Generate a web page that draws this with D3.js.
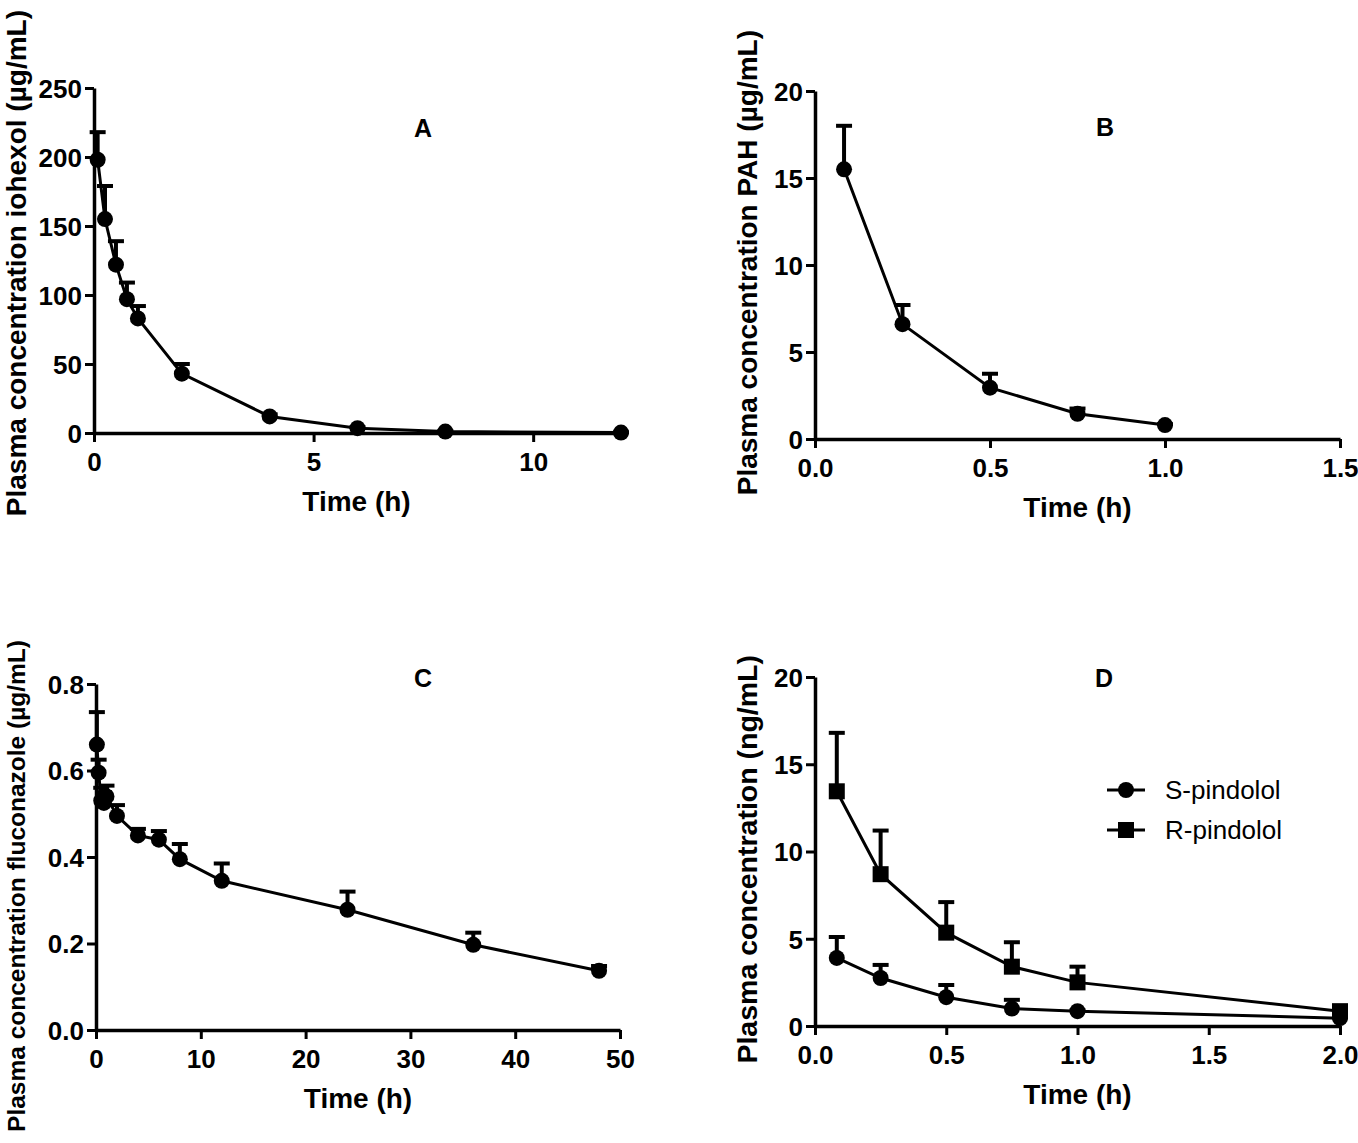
<!DOCTYPE html>
<html>
<head>
<meta charset="utf-8">
<script src="https://cdn.jsdelivr.net/npm/d3@7"></script>
<style>
body { margin: 0; background: #fff; }
text { font-family: "Liberation Sans", Arial, sans-serif; fill: #000; }
</style>
</head>
<body>
<div id="stage"></div>
<script>
// panel A - iohexol
var timeA = [0.083, 0.25, 0.5, 0.75, 1, 2, 4, 6, 8, 12];
var meanA = [198, 155, 122, 97, 83, 43, 12, 3.5, 1, 0.3];
var sdTopA = [218, 179, 139, 109, 92, 50, 13.5, 4.2, 1.3, 0.4];

// panel B - PAH
var timeB = [0.083, 0.25, 0.5, 0.75, 1];
var meanB = [15.5, 6.6, 2.95, 1.45, 0.8];
var sdTopB = [18, 7.7, 3.75, 1.75, 0.85];

// panel C - fluconazole
var timeC = [0.083, 0.25, 0.5, 0.75, 1, 2, 4, 6, 8, 12, 24, 36, 48];
var meanC = [0.66, 0.595, 0.53, 0.525, 0.54, 0.495, 0.45, 0.44, 0.395, 0.345, 0.278, 0.197, 0.137];
var sdTopC = [0.735, 0.625, 0.56, 0.55, 0.565, 0.52, 0.465, 0.46, 0.43, 0.385, 0.32, 0.225, 0.148];

// panel D - pindolol
var timeD = [0.083, 0.25, 0.5, 0.75, 1, 2];
var meanS = [3.9, 2.75, 1.65, 1.0, 0.85, 0.45];
var sdTopS = [5.1, 3.5, 2.35, 1.5, 0.9, 0.5];
var meanR = [13.45, 8.7, 5.35, 3.4, 2.5, 0.85];
var sdTopR = [16.8, 11.2, 7.1, 4.8, 3.4, 1.0];

var ticksA = {x: [0, 5, 10], y: [0, 50, 100, 150, 200, 250]};
var ticksB = {x: [0, 0.5, 1, 1.5], y: [0, 5, 10, 15, 20]};
var ticksC = {x: [0, 10, 20, 30, 40, 50], y: [0, 0.2, 0.4, 0.6, 0.8]};
var ticksD = {x: [0, 0.5, 1, 1.5, 2], y: [0, 5, 10, 15, 20]};

var svg = d3.select("#stage").append("svg").attr("width", 1358).attr("height", 1143);

function drawPanel(p) {
    var x = d3.scaleLinear().domain(p.xdom).range([p.left, p.right]);
    var y = d3.scaleLinear().domain(p.ydom).range([p.bottom, p.top]);
    var g = svg.append("g");

    var xa = g.append("g").attr("transform", "translate(0," + p.bottom + ")")
        .call(d3.axisBottom(x).tickValues(p.ticks.x).tickFormat(d3.format(p.xfmt)).tickSize(9).tickSizeOuter(0));
    var ya = g.append("g").attr("transform", "translate(" + p.left + ",0)")
        .call(d3.axisLeft(y).tickValues(p.ticks.y).tickFormat(d3.format(p.yfmt)).tickSize(9).tickSizeOuter(0));
    [xa, ya].forEach(function(a) {
        a.select(".domain").attr("stroke", "#000").attr("stroke-width", 3.5);
        a.selectAll(".tick line").attr("stroke", "#000").attr("stroke-width", 3);
        a.selectAll(".tick text").style("font-size", "26px").style("font-weight", "bold")
            .style("font-family", "'Liberation Sans', Arial, sans-serif");
    });
    xa.selectAll(".tick text").attr("dy", "1.0em");
    ya.selectAll(".tick text").attr("x", -12).attr("dy", "0.36em");

    p.series.forEach(function(s) {
        var pts = s.t.map(function(t, i) { return {t: t, m: s.m[i], e: s.e[i]}; });
        // error bars (upper only)
        var eb = g.selectAll(null).data(pts).enter().append("g");
        eb.append("line")
            .attr("x1", function(d) { return x(d.t); }).attr("x2", function(d) { return x(d.t); })
            .attr("y1", function(d) { return y(d.m); }).attr("y2", function(d) { return y(d.e); })
            .attr("stroke", "#000").attr("stroke-width", 4);
        eb.append("line")
            .attr("x1", function(d) { return x(d.t) - 8; }).attr("x2", function(d) { return x(d.t) + 8; })
            .attr("y1", function(d) { return y(d.e); }).attr("y2", function(d) { return y(d.e); })
            .attr("stroke", "#000").attr("stroke-width", 4);

        var line = d3.line().x(function(d) { return x(d.t); }).y(function(d) { return y(d.m); });
        g.append("path").datum(pts).attr("d", line)
            .attr("fill", "none").attr("stroke", "#000").attr("stroke-width", 3);

        if (s.shape == "square") {
            g.selectAll(null).data(pts).enter().append("rect")
                .attr("x", function(d) { return x(d.t) - 8; }).attr("y", function(d) { return y(d.m) - 8; })
                .attr("width", 16).attr("height", 16).attr("fill", "#000");
        } else {
            g.selectAll(null).data(pts).enter().append("circle")
                .attr("cx", function(d) { return x(d.t); }).attr("cy", function(d) { return y(d.m); })
                .attr("r", 8).attr("fill", "#000");
        }
    });

    g.append("text").attr("x", (p.left + p.right) / 2 - p.xlabShift).attr("y", p.bottom + 78)
        .attr("text-anchor", "middle").style("font-size", "28px").style("font-weight", "bold")
        .text("Time (h)");

    g.append("text").attr("transform", "translate(" + p.ylabX + "," + p.ylabTop + ") rotate(-90)")
        .attr("text-anchor", "end").style("font-size", p.ylabSize + "px").style("font-weight", "bold")
        .text(p.ylab);

    g.append("text").attr("x", p.letter[0]).attr("y", p.letter[1])
        .attr("text-anchor", "middle").style("font-size", "25px").style("font-weight", "bold")
        .text(p.name);
    return {x: x, y: y, g: g};
}

drawPanel({
    name: "A", letter: [423, 137], left: 94, right: 621, top: 88, bottom: 433,
    xdom: [0, 12], ydom: [0, 250], ticks: ticksA, xfmt: "d", yfmt: "d", xlabShift: 1,
    ylab: "Plasma concentration iohexol (\u00b5g/mL)", ylabX: 26, ylabTop: 10, ylabSize: 28,
    series: [{t: timeA, m: meanA, e: sdTopA, shape: "circle"}]
});
drawPanel({
    name: "B", letter: [1105, 136], left: 815, right: 1340, top: 91, bottom: 439,
    xdom: [0, 1.5], ydom: [0, 20], ticks: ticksB, xfmt: ".1f", yfmt: "d", xlabShift: 0,
    ylab: "Plasma concentration PAH (\u00b5g/mL)", ylabX: 757, ylabTop: 30, ylabSize: 28,
    series: [{t: timeB, m: meanB, e: sdTopB, shape: "circle"}]
});
drawPanel({
    name: "C", letter: [423, 687], left: 96, right: 620, top: 684, bottom: 1030,
    xdom: [0, 50], ydom: [0, 0.8], ticks: ticksC, xfmt: "d", yfmt: ".1f", xlabShift: 0,
    ylab: "Plasma concentration fluconazole (\u00b5g/mL)", ylabX: 25, ylabTop: 640, ylabSize: 24.5,
    series: [{t: timeC, m: meanC, e: sdTopC, shape: "circle"}]
});
var pd = drawPanel({
    name: "D", letter: [1104, 687], left: 815, right: 1340, top: 677, bottom: 1026,
    xdom: [0, 2], ydom: [0, 20], ticks: ticksD, xfmt: ".1f", yfmt: "d", xlabShift: 0,
    ylab: "Plasma concentration (ng/mL)", ylabX: 757, ylabTop: 655, ylabSize: 28.5,
    series: [{t: timeD, m: meanS, e: sdTopS, shape: "circle"},
             {t: timeD, m: meanR, e: sdTopR, shape: "square"}]
});

// legend for D
var legendNames = ["S-pindolol", "R-pindolol"];
var legendShapes = ["circle", "square"];
var lg = pd.g.append("g").attr("transform", "translate(1107,790)");
legendNames.forEach(function(n, i) {
    var row = lg.append("g").attr("transform", "translate(0," + i * 40 + ")");
    row.append("line").attr("x1", 0).attr("x2", 38).attr("y1", 0).attr("y2", 0)
        .attr("stroke", "#000").attr("stroke-width", 3);
    if (legendShapes[i] == "circle") {
        row.append("circle").attr("cx", 19).attr("cy", 0).attr("r", 8).attr("fill", "#000");
    } else {
        row.append("rect").attr("x", 11).attr("y", -8).attr("width", 16).attr("height", 16).attr("fill", "#000");
    }
    row.append("text").attr("x", 58).attr("y", 0).attr("dy", "0.35em")
        .style("font-size", "26px").text(n);
});
</script>
</body>
</html>
